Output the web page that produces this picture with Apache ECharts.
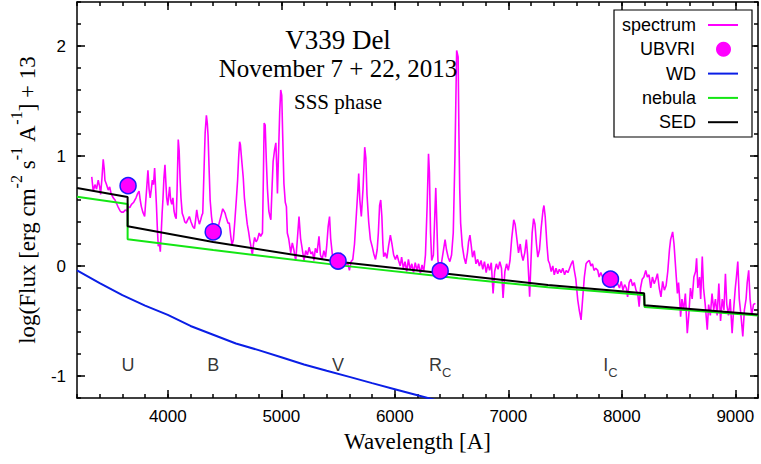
<!DOCTYPE html>
<html>
<head>
<meta charset="utf-8">
<script src="https://cdn.jsdelivr.net/npm/echarts@6/dist/echarts.min.js"></script>
<style>
  html, body { margin: 0; padding: 0; background: #fff; }
  #chart { width: 761px; height: 464px; }
</style>
</head>
<body>
<div id="chart"></div>
<script>
// --- data ---
var specWave = [3330,3343,3358,3372,3387,3400,3408,3420,3431,3440,3446,3460,3475,3488,3500,3519,3535,3548,3565,3580,3592,3610,3625,3640,3650,3665,3680,3700,3720,3735,3747,3757,3767,3780,3796,3805,3815,3825,3835,3845,3855,3864,3874,3884,3892,3900,3908,3916,3925,3934,3942,3950,3957,3966,3975,3982,3990,4000,4008,4016,4025,4035,4045,4055,4065,4074,4082,4092,4100,4108,4116,4127,4140,4150,4162,4175,4190,4205,4220,4235,4245,4255,4265,4278,4290,4300,4308,4320,4329,4340,4348,4355,4365,4373,4385,4396,4410,4425,4440,4455,4470,4484,4495,4505,4515,4530,4542,4555,4566,4578,4590,4605,4615,4625,4633,4640,4654,4665,4675,4689,4700,4712,4722,4732,4745,4755,4765,4778,4790,4805,4818,4834,4842,4849,4858,4868,4878,4890,4900,4908,4918,4928,4940,4952,4960,4966,4975,4986,4995,5004,5012,5023,5035,5045,5053,5065,5083,5097,5110,5127,5140,5156,5170,5185,5200,5215,5230,5245,5260,5275,5288,5300,5315,5332,5345,5360,5375,5390,5400,5413,5425,5435,5450,5470,5492,5510,5525,5540,5555,5570,5585,5600,5615,5630,5645,5662,5675,5682,5692,5705,5720,5735,5745,5755,5770,5785,5800,5815,5830,5845,5855,5866,5876,5886,5895,5902,5915,5930,5945,5961,5975,5990,6005,6020,6033,6048,6060,6075,6090,6105,6120,6135,6150,6165,6180,6195,6210,6225,6240,6255,6270,6285,6297,6305,6315,6325,6340,6352,6361,6370,6380,6395,6410,6425,6443,6455,6470,6485,6500,6515,6530,6545,6558,6565,6572,6580,6595,6610,6625,6640,6650,6662,6672,6685,6700,6715,6730,6745,6760,6775,6790,6805,6820,6835,6850,6866,6880,6895,6910,6925,6940,6954,6970,6985,7000,7015,7030,7048,7060,7075,7090,7105,7118,7130,7145,7159,7170,7180,7188,7200,7210,7223,7235,7248,7260,7275,7290,7305,7314,7325,7340,7352,7364,7378,7392,7405,7420,7435,7450,7465,7480,7496,7510,7525,7540,7555,7569,7580,7595,7612,7625,7641,7655,7670,7685,7700,7714,7728,7742,7755,7770,7788,7800,7815,7830,7845,7860,7880,7899,7915,7930,7945,7963,7980,7995,8010,8025,8040,8051,8065,8080,8095,8110,8125,8140,8153,8165,8180,8195,8211,8225,8240,8255,8270,8285,8300,8314,8330,8345,8360,8375,8390,8405,8420,8430,8448,8460,8470,8480,8490,8500,8510,8518,8530,8545,8560,8577,8590,8605,8620,8635,8650,8659,8670,8685,8695,8709,8720,8735,8753,8765,8780,8795,8810,8825,8840,8855,8870,8885,8900,8913,8925,8940,8955,8972,8985,9000,9010,9022,9035,9050,9066,9080,9095,9105,9118,9130,9145,9160,9177];
var specFlux = [0.81,0.68,0.74,0.70,0.78,0.72,0.65,0.80,0.97,0.88,0.78,0.74,0.69,0.72,0.66,0.62,0.60,0.57,0.53,0.50,0.49,0.49,0.51,0.50,0.54,0.53,0.56,0.58,0.62,0.66,0.68,0.60,0.54,0.49,0.45,0.58,0.72,0.87,0.70,0.62,0.70,0.78,0.74,0.89,0.72,0.55,0.34,0.18,0.22,0.13,0.30,0.48,0.60,0.80,0.92,0.78,0.62,0.55,0.64,0.72,0.60,0.56,0.62,0.50,0.45,0.43,0.70,1.15,1.05,0.80,0.62,0.48,0.44,0.40,0.39,0.42,0.45,0.40,0.36,0.34,0.42,0.51,0.44,0.38,0.42,0.46,0.48,0.90,1.21,1.37,1.30,1.18,0.85,0.60,0.45,0.36,0.33,0.30,0.34,0.40,0.46,0.52,0.50,0.48,0.44,0.39,0.39,0.27,0.19,0.24,0.40,0.62,0.78,1.00,1.13,1.10,0.93,0.80,0.62,0.48,0.38,0.31,0.24,0.18,0.10,0.20,0.26,0.22,0.24,0.30,0.27,0.30,0.80,1.30,1.28,0.96,0.70,0.50,0.45,0.42,0.70,0.95,1.05,1.12,0.90,0.66,1.00,1.40,1.60,1.55,1.20,0.75,0.58,0.54,0.30,0.25,0.12,0.21,0.15,0.05,0.22,0.45,0.25,0.15,0.05,0.14,0.10,0.17,0.11,0.13,0.05,0.16,0.12,0.27,0.10,0.06,0.14,0.08,0.18,0.36,0.45,0.25,0.10,0.04,0.02,0.06,0.12,0.05,0.08,0.01,0.03,-0.04,0.04,0.06,0.20,0.48,0.70,0.84,0.60,0.45,0.70,1.08,0.98,0.65,0.40,0.24,0.18,0.11,0.06,0.15,0.30,0.55,0.60,0.45,0.20,0.085,0.12,0.07,0.18,0.28,0.20,0.10,0.06,0.10,0.05,0.00,0.08,-0.02,0.04,-0.05,0.06,-0.03,0.02,-0.06,0.03,-0.04,0.02,-0.07,0.01,-0.05,0.10,0.55,1.02,0.85,0.30,0.05,0.10,0.45,0.71,0.40,0.05,-0.02,0.02,0.12,0.24,0.15,0.08,0.04,0.10,0.30,1.00,1.96,1.90,1.20,0.70,0.39,0.18,0.08,0.02,0.12,0.22,0.28,0.20,0.08,0.14,0.02,0.06,0.00,0.05,-0.03,0.04,-0.06,0.02,-0.04,0.03,-0.25,-0.05,0.02,-0.03,0.04,-0.02,-0.29,-0.05,0.02,-0.04,0.05,0.25,0.42,0.38,0.25,0.12,0.20,0.10,0.05,0.12,0.24,0.10,-0.10,-0.28,0.05,0.30,0.43,0.38,0.20,0.08,0.15,0.35,0.50,0.55,0.45,0.20,0.05,0.02,-0.05,0.00,-0.08,-0.02,-0.07,-0.03,-0.06,-0.02,-0.08,-0.04,-0.06,-0.02,0.02,0.05,-0.03,-0.12,-0.31,-0.40,-0.49,-0.30,-0.10,0.02,0.04,0.05,0.00,0.02,-0.04,-0.02,-0.04,-0.10,-0.06,-0.10,-0.08,-0.14,-0.10,-0.12,-0.14,-0.20,-0.13,-0.16,-0.20,-0.14,-0.22,-0.17,-0.20,-0.28,-0.15,-0.12,-0.18,-0.15,-0.22,-0.25,-0.37,-0.20,-0.12,-0.10,-0.04,-0.10,-0.08,-0.20,-0.10,-0.16,-0.12,-0.07,-0.20,-0.28,-0.14,-0.22,-0.18,-0.05,0.15,0.24,0.31,0.20,0.05,-0.10,-0.25,-0.15,-0.30,-0.46,-0.30,-0.40,-0.25,-0.61,-0.45,-0.20,-0.30,-0.10,-0.05,0.07,-0.20,-0.10,-0.30,0.085,-0.20,-0.35,-0.58,-0.35,-0.45,-0.25,-0.40,-0.30,-0.45,-0.16,-0.50,-0.30,-0.40,-0.07,-0.35,-0.45,-0.30,-0.61,-0.40,-0.20,-0.10,0.04,-0.30,-0.45,-0.64,-0.40,-0.30,-0.15,-0.04,-0.30,-0.45,-0.35,-0.34];

var bandNames = ['U', 'B', 'V', 'R{sub|C}', 'I{sub|C}'];
var bandWave = [3650, 4400, 5500, 6400, 7900];
var bandFlux = [0.73, 0.31, 0.045, -0.045, -0.12];

var wdWave = [3200,3400,3600,3800,4000,4200,4400,4600,4800,5000,5200,5400,5600,5800,6000,6200,6400];
var wdFlux = [-0.04,-0.155,-0.265,-0.36,-0.445,-0.545,-0.625,-0.705,-0.765,-0.83,-0.895,-0.953,-1.008,-1.065,-1.12,-1.175,-1.23];

var nebWave = [3200, 3646, 3646, 4400, 5500, 6560, 7349, 8197, 8200, 9200];
var nebFlux = [0.63, 0.564, 0.243, 0.145, 0.008, -0.112, -0.194, -0.264, -0.373, -0.45];

var sedWave = [3200, 3646, 3646, 4400, 5500, 6560, 7349, 8197, 8200, 9200];
var sedFlux = [0.71, 0.628, 0.362, 0.218, 0.038, -0.082, -0.173, -0.248, -0.357, -0.44];

var xMajor = [4000, 5000, 6000, 7000, 8000, 9000];
var yMajor = [-1, 0, 1, 2];
var legendNames = ['spectrum', 'UBVRI', 'WD', 'nebula', 'SED'];

function zip(a, b) { return a.map(function(v, i) { return [v, b[i]]; }); }

(function() {
  var ink = '#000';
  var serif = 'Liberation Serif';
  var sans = 'Liberation Sans';
  var frame = { color: ink, width: 1.5 };
  var bandLabelY = -0.92;

  function xAx(pos, major, showLab) {
    return {
      type: 'value', min: 3200, max: 9200, interval: 200, position: pos,
      axisLine: { show: !major, onZero: false, lineStyle: frame },
      axisTick: major ? { inside: true, length: 8, customValues: xMajor, lineStyle: frame }
                      : { inside: true, length: 4, lineStyle: frame },
      axisLabel: showLab ? {
        color: ink, fontFamily: sans, fontSize: 17, margin: 10,
        formatter: function(v) { return v % 1000 === 0 ? String(v) : ''; }
      } : { show: false },
      splitLine: { show: false }
    };
  }
  function yAx(pos, major, showLab) {
    return {
      type: 'value', min: -1.2, max: 2.4, interval: 0.2, position: pos,
      axisLine: { show: !major, onZero: false, lineStyle: frame },
      axisTick: major ? { inside: true, length: 8, customValues: yMajor, lineStyle: frame }
                      : { inside: true, length: 4, lineStyle: frame },
      axisLabel: showLab ? {
        color: ink, fontFamily: sans, fontSize: 17, margin: 11,
        formatter: function(v) { return Math.abs(v - Math.round(v)) < 1e-6 ? String(Math.round(v)) : ''; }
      } : { show: false },
      splitLine: { show: false }
    };
  }

  var xAxes = [xAx('bottom', false, true), xAx('bottom', true, false), xAx('top', false, false), xAx('top', true, false)];
  xAxes[0].name = 'Wavelength [A]';
  xAxes[0].nameLocation = 'middle';
  xAxes[0].nameGap = 31;
  xAxes[0].nameTextStyle = { color: ink, fontFamily: serif, fontSize: 23 };

  var yAxes = [yAx('left', false, true), yAx('left', true, false), yAx('right', false, false), yAx('right', true, false)];
  yAxes[0].name = '{n|log(Flux [erg cm}{s|-2}{n| s}{s|-1}{n| A}{s|-1}{n|] + 13}';
  yAxes[0].nameLocation = 'middle';
  yAxes[0].nameRotate = 90;
  yAxes[0].nameGap = 38;
  yAxes[0].nameTextStyle = {
    color: ink, fontFamily: serif,
    rich: {
      n: { fontFamily: serif, fontSize: 23, color: ink, padding: [8, 0, 0, 0], verticalAlign: 'bottom' },
      s: { fontFamily: serif, fontSize: 16, color: ink, verticalAlign: 'top' }
    }
  };

  // one legend per entry so the text sits right-aligned against the key, gnuplot style
  var legends = legendNames.map(function(n, i) {
    var dot = n === 'UBVRI';
    return {
      data: [n], icon: dot ? 'circle' : 'rect',
      right: dot ? 30 : 23, top: 16 + i * 24.3, align: 'right', orient: 'horizontal',
      itemWidth: dot ? 15 : 30, itemHeight: dot ? 15 : 2,
      itemStyle: { borderWidth: 0 },
      padding: 0, selectedMode: false, z: 20,
      textStyle: { color: ink, fontFamily: sans, fontSize: 18, padding: [0, dot ? 16 : 7, 0, 0] }
    };
  });

  var chart = echarts.init(document.getElementById('chart'), null, { renderer: 'svg' });
  chart.setOption({
    animation: false,
    backgroundColor: '#fff',
    grid: { left: 77, right: 1, top: 2, bottom: 66 },
    xAxis: xAxes,
    yAxis: yAxes,
    legend: legends,
    graphic: [
      { type: 'rect', shape: { x: 614, y: 10, width: 138, height: 127 }, style: { fill: '#fff', stroke: ink, lineWidth: 1.2 }, z: 8, silent: true },
      { type: 'text', x: 338, y: 40, z: 100, style: { text: 'V339 Del', fontFamily: serif, fontSize: 27, fill: ink, textAlign: 'center', textVerticalAlign: 'middle' } },
      { type: 'text', x: 338, y: 68, z: 100, style: { text: 'November 7 + 22, 2013', fontFamily: serif, fontSize: 25, fill: ink, textAlign: 'center', textVerticalAlign: 'middle' } },
      { type: 'text', x: 338, y: 102, z: 100, style: { text: 'SSS phase', fontFamily: serif, fontSize: 21, fill: ink, textAlign: 'center', textVerticalAlign: 'middle' } }
    ],
    series: [
      { name: 'spectrum', type: 'line', data: zip(specWave, specFlux), symbol: 'none', z: 2,
        lineStyle: { color: '#ff00ff', width: 1.6 }, itemStyle: { color: '#ff00ff' } },
      { name: 'UBVRI', type: 'scatter', data: zip(bandWave, bandFlux), symbolSize: 16, z: 6,
        itemStyle: { color: '#ff00ff', borderColor: '#1a1aff', borderWidth: 1.5, opacity: 1 } },
      { name: 'WD', type: 'line', data: zip(wdWave, wdFlux), symbol: 'none', z: 3,
        lineStyle: { color: '#0a1ee6', width: 2 }, itemStyle: { color: '#0a1ee6' } },
      { name: 'nebula', type: 'line', data: zip(nebWave, nebFlux), symbol: 'none', z: 3,
        lineStyle: { color: '#14e614', width: 2 }, itemStyle: { color: '#14e614' } },
      { name: 'SED', type: 'line', data: zip(sedWave, sedFlux), symbol: 'none', z: 4,
        lineStyle: { color: ink, width: 2 }, itemStyle: { color: ink } },
      { name: 'bands', type: 'scatter', symbolSize: 1, z: 5, silent: true,
        itemStyle: { color: 'rgba(0,0,0,0)' },
        data: bandWave.map(function(w, i) { return { value: [w, bandLabelY], name: bandNames[i] }; }),
        label: {
          show: true, position: 'inside',
          formatter: function(p) {
            var t = p.name;
            return t.indexOf('{') < 0 ? '{m|' + t + '}' : '{m|' + t.charAt(0) + '}' + t.slice(1);
          },
          rich: {
            m: { fontFamily: sans, fontSize: 18, color: ink, padding: [0, 0, 5, 0], verticalAlign: 'bottom' },
            sub: { fontFamily: sans, fontSize: 13, color: ink, verticalAlign: 'bottom' }
          }
        } }
    ]
  });
  window.addEventListener('resize', function() { chart.resize(); });
})();
</script>
</body>
</html>
